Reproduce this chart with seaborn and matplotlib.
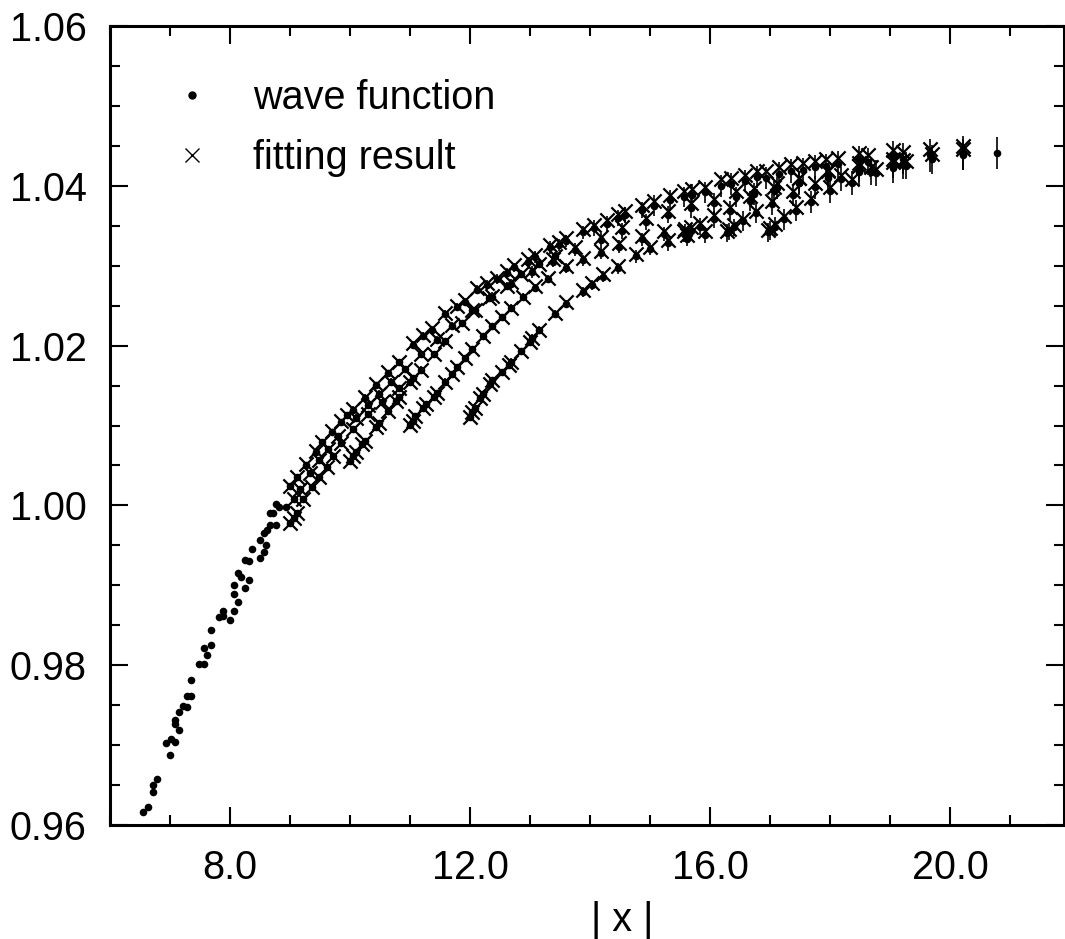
import numpy as np
import pandas as pd
import matplotlib
matplotlib.use("Agg")
import matplotlib.pyplot as plt
import seaborn as sns
from matplotlib.lines import Line2D
from matplotlib.ticker import MultipleLocator, FormatStrFormatter

# ---------------- data ----------------
# wave function only (|x| < 9)
x_low = [6.55, 6.64, 6.71, 6.71, 6.79, 6.93, 7.00, 7.01, 7.08, 7.08, 7.08, 7.15, 7.15,
         7.22, 7.29, 7.29, 7.35, 7.35, 7.49, 7.56, 7.56, 7.62, 7.68, 7.68, 7.82, 7.88,
         7.88, 8.00, 8.07, 8.07, 8.07, 8.13, 8.13, 8.19, 8.25, 8.25, 8.31, 8.31, 8.37,
         8.50, 8.50, 8.56, 8.56, 8.60, 8.61, 8.67, 8.66, 8.72, 8.77, 8.77, 8.82, 8.94]
y_low = [0.9616, 0.9623, 0.9641, 0.9650, 0.9658, 0.9703, 0.9688, 0.9708, 0.9704, 0.9727,
         0.9731, 0.9719, 0.9741, 0.9749, 0.9748, 0.9762, 0.9762, 0.9781, 0.9802, 0.9801,
         0.9822, 0.9813, 0.9825, 0.9844, 0.9860, 0.9862, 0.9868, 0.9857, 0.9868, 0.9889,
         0.9900, 0.9879, 0.9916, 0.9911, 0.9897, 0.9932, 0.9907, 0.9930, 0.9946, 0.9934,
         0.9957, 0.9942, 0.9965, 0.9950, 0.9969, 0.9975, 0.9990, 0.9990, 0.9975, 1.0002,
         0.9998, 0.9998]

# upper envelope
x_top = [9.00, 9.11, 9.27, 9.43, 9.54, 9.70, 9.85, 9.95, 10.05, 10.25,
         10.44, 10.63, 10.82, 11.05, 11.22, 11.36, 11.58, 11.79, 11.92, 12.12,
         12.29, 12.45, 12.61, 12.73, 12.96, 13.08, 13.34, 13.49, 13.60, 13.89,
         14.07, 14.28, 14.46, 14.59, 14.87, 15.07, 15.33, 15.56, 15.70, 15.91,
         16.19, 16.35, 16.58, 16.79, 16.93, 17.15, 17.35, 17.55, 17.75, 17.94,
         18.14, 18.49, 18.63, 19.05, 19.21, 19.67, 20.22]
wf_top = [1.0024, 1.0036, 1.0051, 1.0067, 1.0079, 1.0092, 1.0105, 1.0113, 1.0120, 1.0135,
          1.0151, 1.0166, 1.0179, 1.0201, 1.0212, 1.0220, 1.0239, 1.0248, 1.0255, 1.0270,
          1.0276, 1.0283, 1.0291, 1.0298, 1.0305, 1.0311, 1.0323, 1.0326, 1.0331, 1.0342,
          1.0347, 1.0352, 1.0360, 1.0363, 1.0370, 1.0375, 1.0382, 1.0386, 1.0389, 1.0392,
          1.0400, 1.0402, 1.0406, 1.0411, 1.0410, 1.0415, 1.0419, 1.0420, 1.0423, 1.0425,
          1.0427, 1.0433, 1.0430, 1.0437, 1.0434, 1.0438, 1.0441]
fit_top = [1.0024, 1.0036, 1.0052, 1.0068, 1.0079, 1.0093, 1.0106, 1.0113, 1.0121, 1.0136,
           1.0152, 1.0167, 1.0180, 1.0203, 1.0213, 1.0222, 1.0241, 1.0250, 1.0257, 1.0272,
           1.0278, 1.0285, 1.0293, 1.0301, 1.0308, 1.0314, 1.0326, 1.0330, 1.0335, 1.0346,
           1.0351, 1.0357, 1.0365, 1.0368, 1.0376, 1.0381, 1.0388, 1.0393, 1.0396, 1.0399,
           1.0408, 1.0410, 1.0414, 1.0419, 1.0418, 1.0423, 1.0427, 1.0428, 1.0431, 1.0433,
           1.0435, 1.0441, 1.0438, 1.0445, 1.0442, 1.0446, 1.0450]
err_top = [0.0003, 0.0003, 0.0003, 0.0003, 0.0003, 0.0003, 0.0003, 0.0003,
           0.0004, 0.0004, 0.0004, 0.0004, 0.0004,
           0.0005, 0.0005, 0.0005, 0.0005, 0.0005, 0.0005,
           0.0006, 0.0006, 0.0006, 0.0006, 0.0006, 0.0006,
           0.0008, 0.0008, 0.0008, 0.0008, 0.0008,
           0.0010, 0.0010, 0.0010, 0.0010, 0.0010,
           0.0013, 0.0013, 0.0013, 0.0013, 0.0013,
           0.0014, 0.0014, 0.0014, 0.0014, 0.0014,
           0.0015, 0.0015, 0.0015, 0.0015, 0.0015,
           0.0017, 0.0017, 0.0017, 0.0019, 0.0019, 0.0021, 0.0021]

# second line of the band
x_band = [9.06, 9.17, 9.33, 9.49, 9.64, 9.80, 10.10, 10.30, 10.49, 10.68, 10.91,
          11.18, 11.45, 11.70, 12.04, 12.37, 12.69, 13.04, 13.38, 13.75, 14.18,
          14.53, 14.93, 15.30, 15.68, 16.06, 16.43, 16.73, 17.12, 17.49, 17.97,
          18.49, 19.05]
wf_band = [1.0008, 1.0021, 1.0040, 1.0057, 1.0071, 1.0087, 1.0110, 1.0126, 1.0140, 1.0155,
           1.0171, 1.0189, 1.0207, 1.0225, 1.0244, 1.0261, 1.0277, 1.0292, 1.0305, 1.0320,
           1.0332, 1.0344, 1.0355, 1.0364, 1.0372, 1.0378, 1.0386, 1.0390, 1.0397, 1.0403,
           1.0410, 1.0417, 1.0422]
fit_band = [1.0008, 1.0021, 1.0040, 1.0057, 1.0071, 1.0087, 1.0110, 1.0126, 1.0140, 1.0155,
            1.0171, 1.0190, 1.0208, 1.0226, 1.0245, 1.0262, 1.0279, 1.0294, 1.0308, 1.0323,
            1.0336, 1.0348, 1.0360, 1.0369, 1.0378, 1.0384, 1.0393, 1.0397, 1.0404, 1.0410,
            1.0418, 1.0425, 1.0430]
err_band = [0.0003, 0.0003, 0.0003, 0.0003, 0.0003, 0.0003, 0.0004, 0.0004, 0.0004, 0.0004,
            0.0004, 0.0005, 0.0005, 0.0005, 0.0006, 0.0006, 0.0006, 0.0007, 0.0007, 0.0008,
            0.0009, 0.0010, 0.0010, 0.0011, 0.0012, 0.0013, 0.0013, 0.0014, 0.0014, 0.0015,
            0.0016, 0.0017, 0.0018]

# branch starting at |x| = 9
x_b9 = [9.00, 9.06, 9.11, 9.22, 9.36, 9.49, 9.61, 9.72, 9.85, 10.05, 10.30, 10.54, 10.82, 11.05]
wf_b9 = [0.9978, 0.9984, 0.9990, 1.0008, 1.0023, 1.0036, 1.0048, 1.0062, 1.0078, 1.0096,
         1.0114, 1.0130, 1.0147, 1.0160]
err_b9 = [0.0003, 0.0003, 0.0003, 0.0003, 0.0003, 0.0003, 0.0003, 0.0003, 0.0003, 0.0003,
          0.0003, 0.0003, 0.0003, 0.0003]

# branch starting at |x| = 10
x_b10 = [10.00, 10.05, 10.10, 10.20, 10.25, 10.44, 10.49, 10.63, 10.77, 10.82, 11.00,
         11.18, 11.40, 11.58, 11.87, 12.08, 12.32, 12.61, 12.85, 13.15, 13.42]
wf_b10 = [1.0056, 1.0062, 1.0067, 1.0077, 1.0081, 1.0098, 1.0103, 1.0118, 1.0131, 1.0136,
          1.0154, 1.0170, 1.0189, 1.0206, 1.0228, 1.0244, 1.0259, 1.0275, 1.0289, 1.0302,
          1.0312]
err_b10 = [0.0003, 0.0003, 0.0003, 0.0003, 0.0003, 0.0003, 0.0003, 0.0003,
           0.0004, 0.0004, 0.0004, 0.0004, 0.0004, 0.0004, 0.0004, 0.0004,
           0.0005, 0.0005, 0.0005, 0.0005, 0.0005]

# branch starting at |x| = 11
x_b11 = [11.00, 11.05, 11.09, 11.22, 11.27, 11.40, 11.45, 11.58, 11.70, 11.79,
         11.92, 12.04, 12.21, 12.37, 12.53, 12.69, 12.88,
         13.08, 13.30, 13.60, 13.89, 14.18, 14.49, 14.87, 15.23]
wf_b11 = [1.0101, 1.0106, 1.0112, 1.0122, 1.0127, 1.0136, 1.0141, 1.0155, 1.0164, 1.0173,
          1.0184, 1.0196, 1.0212, 1.0224, 1.0236, 1.0247, 1.0261,
          1.0272, 1.0283, 1.0297, 1.0307, 1.0316, 1.0324, 1.0333, 1.0340]
fit_b11 = [1.0101, 1.0106, 1.0112, 1.0122, 1.0127, 1.0136, 1.0141, 1.0155, 1.0164, 1.0173,
           1.0184, 1.0196, 1.0212, 1.0224, 1.0236, 1.0247, 1.0261,
           1.0274, 1.0285, 1.0300, 1.0310, 1.0319, 1.0328, 1.0337, 1.0344]
err_b11 = [0.0003, 0.0003, 0.0003, 0.0003, 0.0003, 0.0003, 0.0003,
           0.0004, 0.0004, 0.0004, 0.0004, 0.0004, 0.0004, 0.0004, 0.0004,
           0.0005, 0.0005, 0.0005, 0.0005,
           0.0006, 0.0007, 0.0007, 0.0008, 0.0008, 0.0009]

x_b11b = [15.56, 15.59, 15.68, 15.84, 16.06, 16.34, 16.67, 17.06, 17.49, 17.97, 18.49, 19.05]
wf_b11b = [1.0340, 1.0342, 1.0344, 1.0349, 1.0358, 1.0369, 1.0381, 1.0393, 1.0404, 1.0413,
           1.0421, 1.0427]
fit_b11b = [1.0344, 1.0346, 1.0348, 1.0353, 1.0363, 1.0374, 1.0387, 1.0399, 1.0410, 1.0420,
            1.0428, 1.0434]
err_b11b = [0.0010, 0.0010, 0.0010, 0.0011, 0.0011, 0.0012, 0.0012, 0.0013, 0.0014, 0.0015,
            0.0016, 0.0017]

# branch starting at |x| = 12
x_b12 = [12.00, 12.04, 12.08, 12.17, 12.21, 12.33, 12.37, 12.53, 12.65, 12.69, 12.85, 13.00,
         13.04, 13.15, 13.42, 13.60, 13.89, 14.04, 14.21, 14.46, 14.76, 15.00, 15.30, 15.62,
         15.91]
wf_b12 = [1.0111, 1.0117, 1.0122, 1.0134, 1.0139, 1.0152, 1.0157, 1.0167, 1.0176, 1.0180,
          1.0193, 1.0205, 1.0210, 1.0219, 1.0240, 1.0252, 1.0267, 1.0276, 1.0286, 1.0297,
          1.0312, 1.0321, 1.0328, 1.0334, 1.0339]
fit_b12 = [1.0111, 1.0117, 1.0122, 1.0134, 1.0139, 1.0152, 1.0157, 1.0167, 1.0176, 1.0180,
           1.0193, 1.0205, 1.0210, 1.0220, 1.0241, 1.0254, 1.0269, 1.0278, 1.0289, 1.0300,
           1.0315, 1.0324, 1.0332, 1.0338, 1.0343]
err_b12 = [0.0003, 0.0003, 0.0003, 0.0003, 0.0003, 0.0004, 0.0004, 0.0004, 0.0004, 0.0004,
           0.0004, 0.0005, 0.0005, 0.0005, 0.0005, 0.0005, 0.0006, 0.0006, 0.0007, 0.0007,
           0.0008, 0.0008, 0.0009, 0.0009, 0.0010]

x_b12b = [16.28, 16.31, 16.40, 16.55, 16.76, 17.03, 17.38, 17.75, 18.19, 18.68, 19.26]
wf_b12b = [1.0341, 1.0343, 1.0348, 1.0356, 1.0366, 1.0377, 1.0388, 1.0398, 1.0408, 1.0417,
           1.0425]
fit_b12b = [1.0344, 1.0346, 1.0351, 1.0359, 1.0369, 1.0381, 1.0393, 1.0403, 1.0414, 1.0423,
            1.0431]
err_b12b = [0.0011, 0.0011, 0.0011, 0.0012, 0.0012, 0.0013, 0.0013, 0.0014, 0.0015, 0.0016,
            0.0017]

x_b12c = [16.97, 17.00, 17.09, 17.23, 17.44, 17.69, 18.00, 18.36, 18.76, 19.21, 19.70, 20.22]
wf_b12c = [1.0342, 1.0344, 1.0349, 1.0358, 1.0369, 1.0380, 1.0393, 1.0404, 1.0416, 1.0426,
           1.0433, 1.0439]
fit_b12c = [1.0345, 1.0347, 1.0352, 1.0362, 1.0373, 1.0385, 1.0398, 1.0409, 1.0421, 1.0432,
            1.0440, 1.0446]
err_b12c = [0.0012, 0.0012, 0.0012, 0.0013, 0.0013, 0.0014, 0.0014, 0.0015, 0.0016, 0.0017,
            0.0018, 0.0019]

# last point (wave function only)
x_last = [20.78]
wf_last = [1.0441]
err_last = [0.0020]

legend_labels = ["wave function", "fitting result"]

# ---------------- build tables ----------------
segments = [
    (x_top, wf_top, fit_top, err_top),
    (x_band, wf_band, fit_band, err_band),
    (x_b9, wf_b9, wf_b9, err_b9),
    (x_b10, wf_b10, wf_b10, err_b10),
    (x_b11, wf_b11, fit_b11, err_b11),
    (x_b11b, wf_b11b, fit_b11b, err_b11b),
    (x_b12, wf_b12, fit_b12, err_b12),
    (x_b12b, wf_b12b, fit_b12b, err_b12b),
    (x_b12c, wf_b12c, fit_b12c, err_b12c),
]
wf_df = pd.concat(
    [pd.DataFrame({"x": s[0], "y": s[1], "err": s[3]}) for s in segments]
    + [pd.DataFrame({"x": x_last, "y": wf_last, "err": err_last})],
    ignore_index=True)
fit_df = pd.concat([pd.DataFrame({"x": s[0], "y": s[2]}) for s in segments],
                   ignore_index=True)
low_df = pd.DataFrame({"x": x_low, "y": y_low})

# ---------------- figure ----------------
sns.set_theme(style="ticks")
plt.rcParams["font.family"] = ["Liberation Sans", "DejaVu Sans"]
plt.rcParams["text.color"] = "black"
plt.rcParams["axes.labelcolor"] = "black"
plt.rcParams["xtick.color"] = "black"
plt.rcParams["ytick.color"] = "black"

W, H = 1065, 939
fig = plt.figure(figsize=(W / 100, H / 100), dpi=100)
ax = fig.add_axes([110 / W, 1 - 825 / H, 954 / W, 799 / H])

ax.errorbar(wf_df["x"], wf_df["y"], yerr=wf_df["err"], fmt="none",
            ecolor="black", elinewidth=1.2, capsize=0, zorder=2)
sns.scatterplot(data=low_df, x="x", y="y", ax=ax, color="black", marker="o",
                s=30, linewidth=0, zorder=3, legend=False)
sns.scatterplot(data=wf_df, x="x", y="y", ax=ax, color="black", marker="o",
                s=30, linewidth=0, zorder=3, legend=False)
sns.scatterplot(data=fit_df, x="x", y="y", ax=ax, color="black", marker="x",
                s=105, linewidth=1.6, zorder=4, legend=False)

ax.set_xlim(6.0, 21.9)
ax.set_ylim(0.96, 1.06)
ax.xaxis.set_major_locator(MultipleLocator(4))
ax.xaxis.set_minor_locator(MultipleLocator(1))
ax.yaxis.set_major_locator(MultipleLocator(0.02))
ax.yaxis.set_minor_locator(MultipleLocator(0.005))
ax.xaxis.set_major_formatter(FormatStrFormatter("%.1f"))
ax.yaxis.set_major_formatter(FormatStrFormatter("%.2f"))

ax.tick_params(which="both", direction="in", top=True, right=True,
               colors="black", labelcolor="black", width=1.5, labelsize=28.5)
ax.tick_params(which="major", length=13)
ax.tick_params(which="minor", length=7)
ax.tick_params(axis="x", which="both", pad=17)
ax.tick_params(axis="y", which="both", pad=17)
for sp in ax.spines.values():
    sp.set_linewidth(2.2)
    sp.set_color("black")

ax.set_ylabel("")
ax.set_xlabel("| x |", fontsize=28.5, color="black")
ax.xaxis.set_label_coords((622 - 110) / 954, -(901 - 825) / 799)

handles = [
    Line2D([], [], marker="o", ls="none", color="black", markersize=5),
    Line2D([], [], marker="x", ls="none", color="black", markersize=9.5,
           markeredgewidth=1.0),
]
leg = ax.legend(handles, legend_labels, loc="upper left",
                bbox_to_anchor=((152 - 110) / 954, 1 - (79 - 26) / 799),
                frameon=False, fontsize=28.5, handlelength=2.0, handletextpad=0.55,
                labelspacing=0.55, borderpad=0, borderaxespad=0)
for t in leg.get_texts():
    t.set_color("black")

fig.savefig("out.png", dpi=100)
